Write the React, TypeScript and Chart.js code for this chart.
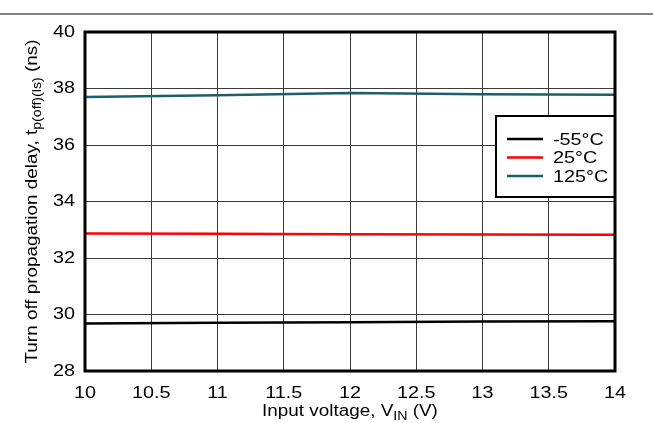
import React, { useEffect, useRef } from "react";
import { Chart, registerables } from "chart.js";
Chart.register(...registerables);

const voltages = [10, 11, 12, 13, 14];
const seriesLabels = ["-55°C", "25°C", "125°C"];
const delayMinus55 = [29.68, 29.71, 29.73, 29.75, 29.76];
const delay25 = [32.87, 32.86, 32.84, 32.83, 32.82];
const delay125 = [37.7, 37.76, 37.84, 37.8, 37.78];
const seriesColors = ["#000000", "#ff0000", "#1b5e6e"];
const xTickValues = [10, 10.5, 11, 11.5, 12, 12.5, 13, 13.5, 14];
const yTickValues = [28, 30, 32, 34, 36, 38, 40];
const yTitleMain = "Turn off propagation delay, t";
const yTitleSub = "p(off)(ls)";
const yTitleEnd = " (ns)";
const xTitleMain = "Input voltage, V";
const xTitleSub = "IN";
const xTitleEnd = " (V)";

const FONT = "'Liberation Sans', Arial, sans-serif";
const STRETCH = 1.2;

function drawStretched(
  ctx: CanvasRenderingContext2D,
  text: string,
  x: number,
  y: number,
  size: number,
  align: CanvasTextAlign,
  baseline: CanvasTextBaseline
) {
  ctx.save();
  ctx.translate(x, y);
  ctx.scale(STRETCH, 1);
  ctx.font = `${size}px ${FONT}`;
  ctx.textAlign = align;
  ctx.textBaseline = baseline;
  ctx.fillText(text, 0, 0);
  ctx.restore();
}

function drawSubText(ctx: CanvasRenderingContext2D, parts: [string, string, string], size: number, stretch: number) {
  ctx.scale(stretch, 1);
  const mainFont = `${size}px ${FONT}`;
  const subFont = `${Math.round(size * 0.72)}px ${FONT}`;
  ctx.font = mainFont;
  const w1 = ctx.measureText(parts[0]).width;
  const w3 = ctx.measureText(parts[2]).width;
  ctx.font = subFont;
  const w2 = ctx.measureText(parts[1]).width;
  const total = w1 + w2 + w3;
  let x = -total / 2;
  ctx.textAlign = "left";
  ctx.textBaseline = "alphabetic";
  ctx.font = mainFont;
  ctx.fillText(parts[0], x, 0);
  x += w1;
  ctx.font = subFont;
  ctx.fillText(parts[1], x, size * 0.24);
  x += w2;
  ctx.font = mainFont;
  ctx.fillText(parts[2], x, 0);
}

const decorPlugin = {
  id: "decor",
  beforeDraw(chart: any) {
    const ctx = chart.ctx as CanvasRenderingContext2D;
    ctx.save();
    ctx.strokeStyle = "#808080";
    ctx.lineWidth = 2;
    ctx.beginPath();
    ctx.moveTo(0, 14);
    ctx.lineTo(chart.width, 14);
    ctx.stroke();
    ctx.restore();
  },
  afterDatasetsDraw(chart: any) {
    const ctx = chart.ctx as CanvasRenderingContext2D;
    const a = chart.chartArea;
    ctx.save();
    // legend
    const lx = a.right - 119;
    const ly = a.top + 84;
    ctx.fillStyle = "#ffffff";
    ctx.fillRect(lx, ly, 119, 81);
    ctx.strokeStyle = "#000";
    ctx.lineWidth = 2;
    ctx.strokeRect(lx, ly, 119, 81);
    chart.data.datasets.forEach((ds: any, i: number) => {
      const y = ly + 23 + i * 18.5;
      ctx.strokeStyle = ds.borderColor;
      ctx.lineWidth = 2.5;
      ctx.beginPath();
      ctx.moveTo(lx + 11, y);
      ctx.lineTo(lx + 47, y);
      ctx.stroke();
      ctx.fillStyle = "#000";
      drawStretched(ctx, ds.label, lx + 57, y + 1, 16.5, "left", "middle");
    });
    // frame
    ctx.strokeStyle = "#000";
    ctx.lineWidth = 3;
    ctx.strokeRect(a.left, a.top, a.right - a.left, a.bottom - a.top);
    ctx.restore();
  },
  afterDraw(chart: any) {
    const ctx = chart.ctx as CanvasRenderingContext2D;
    const a = chart.chartArea;
    const xs = chart.scales.x;
    const ys = chart.scales.y;
    ctx.save();
    ctx.fillStyle = "#000";
    xTickValues.forEach((v) => {
      drawStretched(ctx, String(v), xs.getPixelForValue(v), a.bottom + 22, 16.5, "center", "middle");
    });
    yTickValues.forEach((v) => {
      drawStretched(ctx, String(v), a.left - 10, ys.getPixelForValue(v), 16.5, "right", "middle");
    });
    ctx.restore();

    ctx.save();
    ctx.fillStyle = "#000";
    ctx.translate(37, (a.top + a.bottom) / 2);
    ctx.rotate(-Math.PI / 2);
    drawSubText(ctx, [yTitleMain, yTitleSub, yTitleEnd], 16, 1.18);
    ctx.restore();
    ctx.save();
    ctx.fillStyle = "#000";
    ctx.translate((a.left + a.right) / 2, 416);
    drawSubText(ctx, [xTitleMain, xTitleSub, xTitleEnd], 16, 1.18);
    ctx.restore();
  },
};

export default function App() {
  const ref = useRef<HTMLCanvasElement>(null);
  useEffect(() => {
    if (!ref.current) return;
    const series = [delayMinus55, delay25, delay125];
    const chart = new Chart(ref.current, {
      type: "line",
      data: {
        datasets: series.map((vals, i) => ({
          label: seriesLabels[i],
          data: voltages.map((v, j) => ({ x: v, y: vals[j] })),
          borderColor: seriesColors[i],
          backgroundColor: seriesColors[i],
          borderWidth: 2.5,
          pointRadius: 0,
          tension: 0,
        })),
      },
      options: {
        responsive: false,
        animation: false,
        layout: { padding: { left: 0, top: 32, right: 38, bottom: 0 } },
        plugins: { legend: { display: false }, tooltip: { enabled: false } },
        scales: {
          x: {
            type: "linear",
            min: 10,
            max: 14,
            afterFit: (s: any) => {
              s.height = 52;
            },
            afterBuildTicks: (s: any) => {
              s.ticks = xTickValues.map((v) => ({ value: v }));
            },
            border: { display: false },
            grid: { color: "#3a3a3a", lineWidth: 1, drawTicks: false },
            ticks: { display: false },
          },
          y: {
            type: "linear",
            min: 28,
            max: 40,
            afterFit: (s: any) => {
              s.width = 85;
            },
            afterBuildTicks: (s: any) => {
              s.ticks = yTickValues.map((v) => ({ value: v }));
            },
            border: { display: false },
            grid: { color: "#3a3a3a", lineWidth: 1, drawTicks: false },
            ticks: { display: false },
          },
        },
      },
      plugins: [decorPlugin],
    });
    return () => chart.destroy();
  }, []);
  return (
    <div style={{ position: "absolute", left: 0, top: 0, width: 653, height: 423, background: "#fff" }}>
      <canvas ref={ref} width={653} height={423} />
    </div>
  );
}
